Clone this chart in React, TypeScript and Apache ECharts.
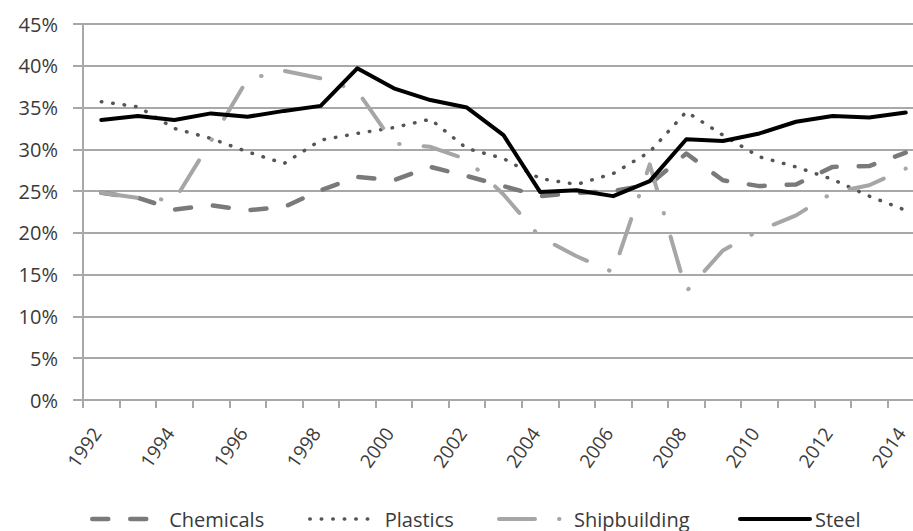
import React, { useEffect, useRef } from "react";
import * as echarts from "echarts";

const years = [
  "1992", "1993", "1994", "1995", "1996", "1997", "1998", "1999", "2000", "2001", "2002", "2003",
  "2004", "2005", "2006", "2007", "2008", "2009", "2010", "2011", "2012", "2013", "2014",
];
const chemicals = [
  24.8, 24.2, 22.8, 23.3, 22.7, 23.1, 25.1, 26.7, 26.3, 27.9, 26.8, 25.6,
  24.4, 24.8, 25.0, 25.8, 29.5, 26.3, 25.6, 25.8, 27.9, 28.0, 29.6,
];
const plastics = [
  35.7, 35.1, 32.5, 31.3, 29.7, 28.3, 31.1, 31.9, 32.6, 33.6, 30.1, 28.9,
  26.5, 25.8, 27.1, 29.7, 34.5, 31.7, 29.1, 27.9, 26.4, 24.4, 22.7,
];
const shipbuilding = [
  24.8, 24.2, 23.9, 31.0, 38.4, 39.4, 38.5, 37.0, 30.7, 30.3, 28.8, 24.6,
  19.5, 17.2, 15.3, 28.2, 13.0, 17.9, 20.3, 22.1, 24.8, 25.7, 27.7,
];
const steel = [
  33.5, 34.0, 33.5, 34.3, 33.9, 34.6, 35.2, 39.7, 37.3, 35.9, 35.0, 31.7,
  24.9, 25.1, 24.4, 26.2, 31.2, 31.0, 31.9, 33.3, 34.0, 33.8, 34.4,
];
const seriesNames = ["Chemicals", "Plastics", "Shipbuilding", "Steel"];

const FONT = "'Open Sans', 'Noto Sans', sans-serif";
const TEXT = "#3a3a3a";
const GRID = "#a8a8a8";

const styles = [
  { color: "#7a7a7a", width: 4.5, type: [16, 22] },
  { color: "#555555", width: 3.5, type: [0.5, 11] },
  { color: "#a6a6a6", width: 4, type: [36, 24, 0.5, 24] },
  { color: "#000000", width: 4, type: "solid" },
];

export default function App() {
  const ref = useRef<HTMLDivElement>(null);
  useEffect(() => {
    const chart = echarts.init(ref.current!, null, { renderer: "svg" });
    const legendLayout = [
      { left: 90, itemWidth: 62, pad: 10 },
      { left: 308, itemWidth: 60, pad: 10 },
      { left: 497, itemWidth: 66, pad: 4 },
      { left: 738, itemWidth: 70, pad: 0 },
    ];
    chart.setOption({
      animation: false,
      backgroundColor: "#ffffff",
      textStyle: { fontFamily: FONT },
      grid: { left: 83, right: 1, top: 24, bottom: 131 },
      legend: seriesNames.map((name, i) => ({
        data: [name],
        top: 507,
        left: legendLayout[i].left,
        padding: 0,
        itemWidth: legendLayout[i].itemWidth,
        itemHeight: 14,
        itemStyle: { opacity: 0, borderWidth: 0 },
        lineStyle: {
          color: styles[i].color,
          width: styles[i].width,
          type: styles[i].type,
          cap: "round",
          join: "round",
        },
        textStyle: {
          fontFamily: FONT,
          fontSize: 20,
          color: TEXT,
          lineHeight: 24,
          padding: [0, 0, 0, legendLayout[i].pad],
        },
      })),
      xAxis: {
        type: "category",
        data: years,
        boundaryGap: true,
        axisLine: { show: true, lineStyle: { color: GRID, width: 2 } },
        axisTick: { show: true, interval: 0, length: 8, lineStyle: { color: GRID, width: 2 } },
        axisLabel: {
          interval: 1,
          rotate: 55,
          margin: 23,
          fontSize: 19,
          lineHeight: 16,
          padding: [0, 8, 0, 0],
          color: TEXT,
          fontFamily: FONT,
        },
        splitLine: { show: false },
      },
      yAxis: {
        type: "value",
        min: 0,
        max: 45,
        interval: 5,
        axisLine: { show: true, lineStyle: { color: GRID, width: 2 } },
        axisTick: { show: true, length: 10, lineStyle: { color: GRID, width: 2 } },
        axisLabel: { formatter: "{value}%", margin: 25, fontSize: 20, color: TEXT, fontFamily: FONT },
        splitLine: { show: true, lineStyle: { color: GRID, width: 2 } },
      },
      series: [chemicals, plastics, shipbuilding, steel].map((d, i) => ({
        name: seriesNames[i],
        type: "line",
        data: d,
        symbol: "none",
        itemStyle: { color: styles[i].color },
        lineStyle: {
          color: styles[i].color,
          width: styles[i].width,
          type: styles[i].type,
          cap: "round",
          join: "round",
        },
      })),
    });
    return () => chart.dispose();
  }, []);
  return (
    <div
      style={{
        position: "fixed",
        left: 0,
        top: 0,
        width: 913,
        height: 531,
        overflow: "hidden",
        background: "#ffffff",
      }}
    >
      <div ref={ref} style={{ width: 925, height: 531 }} />
    </div>
  );
}
